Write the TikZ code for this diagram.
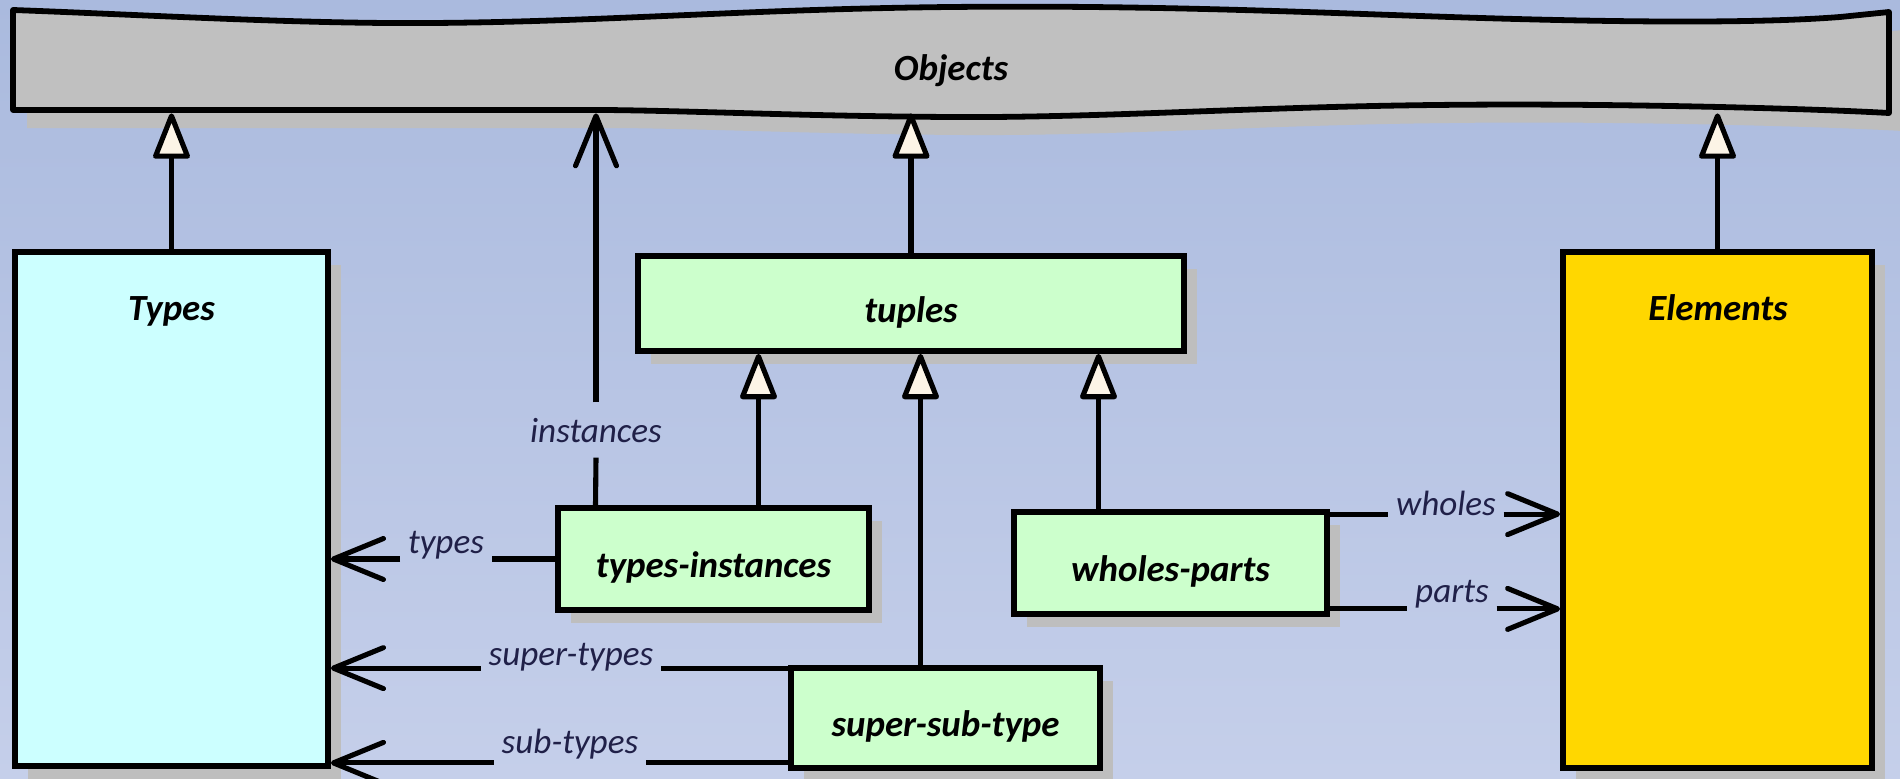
\documentclass[tikz,border=0pt]{standalone}
\usepackage{fontspec}
\setmainfont{Carlito}
\usetikzlibrary{arrows.meta,calc,shadows}

\definecolor{bgtop}{RGB}{170,186,222}
\definecolor{bgbot}{RGB}{197,207,234}
\definecolor{shadegray}{RGB}{190,190,190}
\definecolor{objfill}{RGB}{192,192,192}
\definecolor{typefill}{RGB}{204,255,255}
\definecolor{tuplefill}{RGB}{204,255,204}
\definecolor{elemfill}{RGB}{255,215,0}
\definecolor{tipfill}{RGB}{252,244,230}
\definecolor{labelink}{RGB}{32,32,72}

\tikzset{
  boxnode/.style={draw=black, line width=3.3pt, inner sep=0pt,
    text height=0.74cm, text depth=0pt,
    font=\fontsize{21}{25}\selectfont\bfseries\itshape,
    general shadow={fill=shadegray, shadow xshift=0.26cm, shadow yshift=-0.26cm}},
  boxtitle/.style={anchor=base, inner sep=0pt,
    font=\fontsize{21}{25}\selectfont\bfseries\itshape},
  linklabel/.style={anchor=base, text=labelink, inner xsep=0.15cm, inner ysep=0.05cm,
    font=\fontsize{20}{24}\selectfont\itshape},
  link/.style={line width=2.9pt},
  isa/.style={link, -{Triangle[length=1cm, width=0.76cm, fill=tipfill, round]}},
  refers/.style={link, -{Straight Barb[length=1cm, width=0.82cm, round]}},
}

\begin{document}
\begin{tikzpicture}[x=0.02cm, y=-0.02cm]
  % page and background
  \useasboundingbox (0,0) rectangle (1900,778);
  \fill[top color=bgtop, bottom color=bgbot] (0,0) rectangle (1900,778);

  % the hand-drawn Objects banner: shadow, then outline
  \begin{scope}[shift={(14,18)}]
    \fill[shadegray] (13,10) .. controls (150,15) and (300,24) .. (430,23)
      .. controls (600,22) and (750,9) .. (950,7)
      .. controls (1150,5) and (1300,12) .. (1450,17)
      .. controls (1600,22) and (1750,24) .. (1840,17) -- (1889,12) -- (1889,113)
      .. controls (1800,108) and (1600,103) .. (1435,105)
      .. controls (1250,107) and (1100,118) .. (950,117)
      .. controls (800,116) and (700,111) .. (606,110) -- (13,110) -- cycle;
  \end{scope}
  \filldraw[fill=objfill, line width=3.3pt, line join=round]
    (13,10) .. controls (150,15) and (300,24) .. (430,23)
      .. controls (600,22) and (750,9) .. (950,7)
      .. controls (1150,5) and (1300,12) .. (1450,17)
      .. controls (1600,22) and (1750,24) .. (1840,17) -- (1889,12) -- (1889,113)
      .. controls (1800,108) and (1600,103) .. (1435,105)
      .. controls (1250,107) and (1100,118) .. (950,117)
      .. controls (800,116) and (700,111) .. (606,110) -- (13,110) -- cycle;
  \node[inner sep=0pt, minimum width=37.52cm, minimum height=2.06cm,
        text height=0.74cm, text depth=0pt,
        font=\fontsize{21}{25}\selectfont\bfseries\itshape] (obj) at (951,61.5) {Objects};

  % class boxes
  \node[boxnode, fill=typefill, minimum width=6.26cm, minimum height=10.28cm] (types) at (171.5,509) {};
  \node[boxtitle] (typesT) at (171.5,320) {Types};
  \node[boxnode, fill=elemfill, minimum width=6.18cm, minimum height=10.32cm] (elem) at (1717.5,510) {};
  \node[boxtitle] (elemT) at (1718,320) {Elements};
  \node[boxnode, fill=tuplefill, minimum width=10.92cm, minimum height=1.9cm] (tuples) at (911,303.5) {tuples};
  \node[boxnode, fill=tuplefill, minimum width=6.22cm, minimum height=2.04cm] (ti) at (713.5,559) {types-instances};
  \node[boxnode, fill=tuplefill, minimum width=6.18cm, minimum height=2.0cm] (sst) at (945.5,718) {super-sub-type};
  \node[boxnode, fill=tuplefill, minimum width=6.26cm, minimum height=2.04cm] (wp) at (1170.5,563) {wholes-parts};

  % generalisation links up to Objects
  \draw[isa] (types.north) -- (types.north |- obj.south);
  \draw[isa] (tuples.north) -- (tuples.north |- obj.south);
  \draw[isa] (elem.north) -- (elem.north |- obj.south);

  % generalisation links up to tuples
  \coordinate (tiUp) at ($(ti.north)+(45,0)$);
  \draw[isa] (tiUp) -- (tiUp |- tuples.south);
  \coordinate (sstUp) at ($(sst.north)+(-25,0)$);
  \draw[isa] (sstUp) -- (sstUp |- tuples.south);
  \coordinate (wpUp) at ($(wp.north)+(-72,0)$);
  \draw[isa] (wpUp) -- (wpUp |- tuples.south);

  % instances
  \node[linklabel, inner ysep=0.3cm] (instL) at (596,442) {instances};
  \coordinate (tiInst) at ($(ti.north)+(-118,0)$);
  \draw[link] (tiInst) -- (instL.south);
  \draw[refers] (instL.north) -- (instL.north |- obj.south);

  % types
  \node[linklabel] (typesL) at (446,553) {types};
  \draw[link] (ti.west) -- (ti.west -| typesL.east);
  \draw[refers] (typesL.west |- ti.west) -- (ti.west -| types.east);

  % super-types
  \coordinate (sstA) at ($(sst.north west)+(0,3)$);
  \node[linklabel] (superL) at (571,665) {super-types};
  \draw[link] (sstA) -- (sstA -| superL.east);
  \draw[refers] (superL.west |- sstA) -- (sstA -| types.east);

  % sub-types
  \coordinate (sstB) at ($(sst.south west)+(0,-8)$);
  \node[linklabel] (subL) at (570,753) {sub-types};
  \draw[link] (sstB) -- (sstB -| subL.east);
  \draw[refers] (subL.west |- sstB) -- (sstB -| types.east);

  % wholes
  \coordinate (wpA) at ($(wp.north east)+(0,5)$);
  \node[linklabel] (wholesL) at (1446,515) {wholes};
  \draw[link] (wpA) -- (wpA -| wholesL.west);
  \draw[refers] (wholesL.east |- wpA) -- (wpA -| elem.west);

  % parts
  \coordinate (wpB) at ($(wp.south east)+(0,-8)$);
  \node[linklabel] (partsL) at (1452,602) {parts};
  \draw[link] (wpB) -- (wpB -| partsL.west);
  \draw[refers] (partsL.east |- wpB) -- (wpB -| elem.west);
\end{tikzpicture}
\end{document}
